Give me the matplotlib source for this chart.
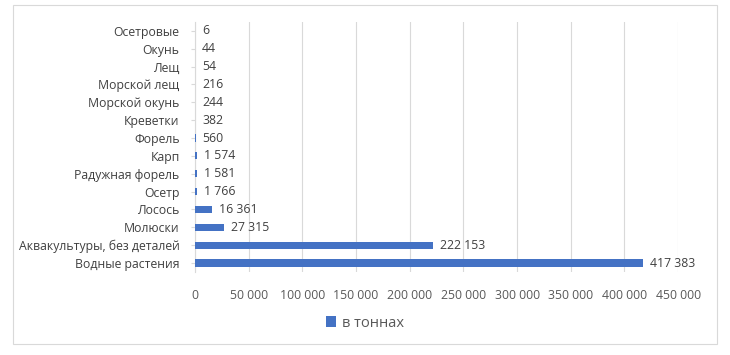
import matplotlib.pyplot as plt
from matplotlib.patches import Rectangle

plt.rcParams["font.family"] = ["Open Sans", "DejaVu Sans"]

categories = [
    "Водные растения",
    "Аквакультуры, без деталей",
    "Молюски",
    "Лосось",
    "Осетр",
    "Радужная форель",
    "Карп",
    "Форель",
    "Креветки",
    "Морской окунь",
    "Морской лещ",
    "Лещ",
    "Окунь",
    "Осетровые",
]
tonnes = [417383, 222153, 27315, 16361, 1766, 1581, 1574, 560, 382, 244, 216, 54, 44, 6]
x_ticks = [0, 50000, 100000, 150000, 200000, 250000, 300000, 350000, 400000, 450000]
series_name = "в тоннах"


def fmt(v):
    return f"{v:,}".replace(",", " ")


fig = plt.figure(figsize=(7.3, 3.55), dpi=100)
ax = fig.add_axes([0.267, 0.234, 0.662, 0.704])

bars = ax.barh(range(len(categories)), tonnes, height=0.4, color="#4472C4",
               label=series_name, zorder=3)
for i, v in enumerate(tonnes):
    ax.annotate(fmt(v), (v, i), xytext=(5, 0), textcoords="offset points",
                va="center", ha="left", fontsize=8.8, color="#404040")

ax.set_xlim(0, 450000)
ax.set_ylim(-0.5, len(categories) - 0.5)
ax.set_xticks(x_ticks)
ax.set_xticklabels([fmt(t) for t in x_ticks], fontsize=8.8, color="#595959")
ax.set_yticks(range(len(categories)))
ax.set_yticklabels(categories, fontsize=8.8, color="#404040")
ax.tick_params(axis="x", length=0, pad=12)
ax.tick_params(axis="y", length=3, color="#D9D9D9", pad=8)
ax.grid(axis="x", color="#D9D9D9", linewidth=0.8, zorder=0)
for s in ["top", "right", "bottom"]:
    ax.spines[s].set_visible(False)
ax.spines["left"].set_color("#D9D9D9")

fig.legend(handles=[bars], labels=[series_name], loc="center",
           bbox_to_anchor=(0.5, 0.09), frameon=False, fontsize=10.5,
           handlelength=0.7, handleheight=0.7, handletextpad=0.4,
           labelcolor="#595959")

fig.patches.append(Rectangle((0.018, 0.03), 0.964, 0.955, transform=fig.transFigure,
                             fill=False, edgecolor="#D9D9D9", linewidth=0.8))

fig.savefig("out.png", dpi=100)
